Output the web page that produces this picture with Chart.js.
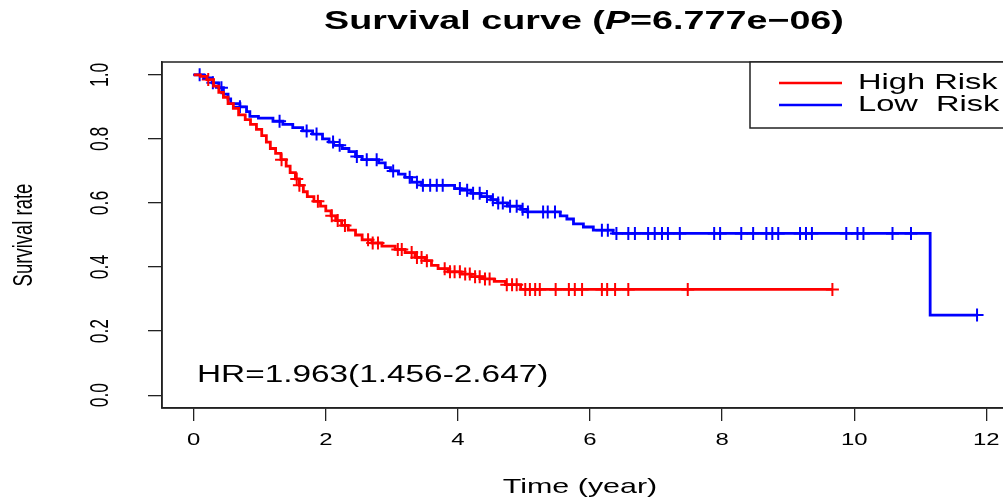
<!DOCTYPE html>
<html>
<head>
<meta charset="utf-8">
<script src="https://cdn.jsdelivr.net/npm/chart.js@4/dist/chart.umd.min.js"></script>
<style>
    html, body { margin: 0; padding: 0; background: #fff; overflow: hidden; }
    #wrap { width: 1003px; height: 499px; overflow: hidden; }
    canvas { display: block; }
</style>
</head>
<body>
<div id="wrap"><canvas id="km" width="1040" height="499"></canvas></div>
<script>
// High Risk group: event times (years) and survival after each step
const highTime = [0, 0.1, 0.2, 0.3, 0.38, 0.45, 0.52, 0.6, 0.68, 0.78, 0.86, 0.95, 1.03, 1.1, 1.16, 1.24, 1.32, 1.4, 1.46, 1.54, 1.6, 1.66, 1.72, 1.82, 1.92, 2.0, 2.08, 2.15, 2.24, 2.34, 2.45, 2.55, 2.7, 2.85, 3.05, 3.2, 3.35, 3.5, 3.6, 3.7, 3.85, 4.05, 4.2, 4.4, 4.55, 4.72, 4.95, 9.67];
const highSurv = [1, 0.995, 0.985, 0.965, 0.945, 0.93, 0.91, 0.895, 0.875, 0.86, 0.845, 0.83, 0.81, 0.79, 0.77, 0.755, 0.735, 0.715, 0.695, 0.675, 0.655, 0.635, 0.62, 0.605, 0.59, 0.575, 0.56, 0.545, 0.53, 0.515, 0.5, 0.485, 0.475, 0.465, 0.455, 0.445, 0.43, 0.42, 0.405, 0.395, 0.385, 0.378, 0.37, 0.363, 0.355, 0.345, 0.33, 0.33];
const highCensor = [0.22, 1.33, 1.56, 1.6, 1.88, 2.09, 2.18, 2.29, 2.64, 2.71, 2.79, 3.09, 3.15, 3.3, 3.38, 3.45, 3.53, 3.8, 3.88, 3.95, 4.03, 4.11, 4.18, 4.26, 4.33, 4.41, 4.48, 4.74, 4.82, 4.89, 5.02, 5.09, 5.17, 5.24, 5.48, 5.68, 5.77, 5.88, 6.18, 6.26, 6.38, 6.58, 7.48, 9.67];

// Low Risk group
const lowTime = [0, 0.15, 0.28, 0.38, 0.45, 0.52, 0.56, 0.7, 0.8, 0.85, 0.98, 1.2, 1.35, 1.5, 1.65, 1.8, 1.95, 2.05, 2.12, 2.25, 2.35, 2.45, 2.55, 2.8, 2.9, 2.98, 3.1, 3.2, 3.3, 3.45, 3.95, 4.05, 4.2, 4.35, 4.5, 4.6, 4.75, 4.95, 5.05, 5.55, 5.65, 5.75, 5.9, 6.05, 6.35, 11.15, 11.86];
const lowSurv = [1, 0.99, 0.975, 0.96, 0.94, 0.925, 0.91, 0.9, 0.885, 0.87, 0.865, 0.855, 0.845, 0.835, 0.825, 0.815, 0.8, 0.79, 0.78, 0.77, 0.76, 0.745, 0.735, 0.725, 0.71, 0.7, 0.69, 0.68, 0.665, 0.655, 0.645, 0.64, 0.63, 0.62, 0.61, 0.6, 0.59, 0.58, 0.572, 0.56, 0.55, 0.535, 0.525, 0.515, 0.505, 0.25, 0.25];
const lowCensor = [0.09, 0.29, 0.42, 0.7, 1.3, 1.71, 1.86, 2.11, 2.21, 2.47, 2.62, 2.77, 3.02, 3.27, 3.38, 3.47, 3.58, 3.68, 3.77, 4.03, 4.14, 4.23, 4.33, 4.44, 4.53, 4.61, 4.68, 4.79, 4.89, 4.98, 5.06, 5.29, 5.36, 5.47, 6.18, 6.27, 6.4, 6.58, 6.68, 6.88, 6.98, 7.09, 7.18, 7.36, 7.88, 7.97, 8.29, 8.47, 8.67, 8.76, 8.85, 9.18, 9.27, 9.36, 9.88, 10.05, 10.14, 10.58, 10.86, 11.86];

const xTicks = [0, 2, 4, 6, 8, 10, 12];
const yTicks = [0, 0.2, 0.4, 0.6, 0.8, 1.0];
const groupNames = ['High Risk', 'Low  Risk'];
const hrText = 'HR=1.963(1.456-2.647)';
const pValue = '6.777e\u221206';

const RED = '#ff0000';
const BLUE = '#0000ff';
const INK = '#222';
const FONT = '"Liberation Sans", Arial, Helvetica, sans-serif';
const SX = 1.45; // the source picture is stretched sideways

function stepPoints(times, surv) {
    return times.map((t, i) => ({ x: t, y: surv[i] }));
}

// survival value of the step curve at time t
function survAt(times, surv, t) {
    let s = surv[0];
    for (let i = 0; i < times.length; i++) {
        if (times[i] <= t) s = surv[i];
    }
    return s;
}

function censorPoints(cens, times, surv) {
    return cens.map(t => ({ x: t, y: survAt(times, surv, t) }));
}

function drawText(ctx, text, x, y, font, align, rotate) {
    ctx.save();
    ctx.translate(x, y);
    ctx.scale(SX, 1);
    if (rotate) ctx.rotate(-Math.PI / 2);
    ctx.font = font;
    ctx.fillStyle = '#000';
    ctx.textAlign = align;
    ctx.textBaseline = 'middle';
    ctx.fillText(text, 0, 0);
    ctx.restore();
}

const decorations = {
    id: 'decorations',
    afterDraw(chart) {
        const ctx = chart.ctx;
        const a = chart.chartArea;
        const xs = chart.scales.x;
        const ys = chart.scales.y;

        // box around the plot
        ctx.save();
        ctx.strokeStyle = INK;
        ctx.lineWidth = 1.5;
        ctx.strokeRect(a.left, a.top, a.right - a.left, a.bottom - a.top);
        ctx.restore();

        // tick labels
        xs.ticks.forEach(t => {
            drawText(ctx, String(t.value), xs.getPixelForValue(t.value), a.bottom + 32, '16.5px ' + FONT, 'center', false);
        });
        ys.ticks.forEach(t => {
            drawText(ctx, t.value.toFixed(1), 101, ys.getPixelForValue(t.value), '17.5px ' + FONT, 'center', true);
        });

        // axis titles
        drawText(ctx, 'Time (year)', 580, 487, '21px ' + FONT, 'center', false);
        drawText(ctx, 'Survival rate', 25, (a.top + a.bottom) / 2, '18.5px ' + FONT, 'center', true);

        // title with italic P
        const parts = [
            ['Survival curve (', 'bold 26px ' + FONT],
            ['P', 'italic bold 26px ' + FONT],
            ['=' + pValue + ')', 'bold 26px ' + FONT]
        ];
        ctx.save();
        let total = 0;
        parts.forEach(p => { ctx.font = p[1]; total += ctx.measureText(p[0]).width; });
        ctx.translate(584 - total * SX / 2, 22);
        ctx.scale(SX, 1);
        ctx.fillStyle = '#000';
        ctx.textBaseline = 'middle';
        ctx.textAlign = 'left';
        let cx = 0;
        parts.forEach(p => {
            ctx.font = p[1];
            ctx.fillText(p[0], cx, 0);
            cx += ctx.measureText(p[0]).width;
        });
        ctx.restore();

        // hazard ratio
        drawText(ctx, hrText, 197, 376, '23px ' + FONT, 'left', false);

        // legend box, top right inside the plot
        const lx = 750, lt = a.top, lb = 128;
        ctx.save();
        ctx.fillStyle = '#fff';
        ctx.fillRect(lx, lt, a.right - lx, lb - lt);
        ctx.strokeStyle = INK;
        ctx.lineWidth = 1.5;
        ctx.strokeRect(lx, lt, a.right - lx, lb - lt);
        const rows = [83, 105];
        [RED, BLUE].forEach((c, i) => {
            ctx.strokeStyle = c;
            ctx.lineWidth = 2.5;
            ctx.beginPath();
            ctx.moveTo(779, rows[i]);
            ctx.lineTo(842, rows[i]);
            ctx.stroke();
        });
        ctx.restore();
        groupNames.forEach((n, i) => drawText(ctx, n, 858, rows[i], '22.5px ' + FONT, 'left', false));
    }
};

const ctx = document.getElementById('km');
new Chart(ctx, {
    type: 'line',
    data: {
        datasets: [
            {
                label: groupNames[0],
                data: stepPoints(highTime, highSurv),
                borderColor: RED,
                borderWidth: 2.8,
                stepped: 'before',
                pointRadius: 0,
                fill: false
            },
            {
                label: groupNames[1],
                data: stepPoints(lowTime, lowSurv),
                borderColor: BLUE,
                borderWidth: 2.8,
                stepped: 'before',
                pointRadius: 0,
                fill: false
            },
            {
                type: 'scatter',
                data: censorPoints(highCensor, highTime, highSurv),
                pointStyle: 'cross',
                pointRadius: 6.5,
                borderColor: RED,
                borderWidth: 2,
                showLine: false
            },
            {
                type: 'scatter',
                data: censorPoints(lowCensor, lowTime, lowSurv),
                pointStyle: 'cross',
                pointRadius: 6.5,
                borderColor: BLUE,
                borderWidth: 2,
                showLine: false
            }
        ]
    },
    options: {
        responsive: false,
        animation: false,
        events: [],
        layout: { padding: { top: 62, right: 22, left: 0, bottom: 0 } },
        plugins: {
            legend: { display: false },
            title: { display: false },
            tooltip: { enabled: false }
        },
        scales: {
            x: {
                type: 'linear',
                min: -0.48,
                max: 12.48,
                afterBuildTicks: s => { s.ticks = xTicks.map(v => ({ value: v })); },
                afterFit: s => { s.height = 91; },
                ticks: { display: false },
                grid: { display: true, drawOnChartArea: false, drawTicks: true, tickLength: 13, color: INK, lineWidth: 1.3 },
                border: { display: true, color: INK, width: 1.5 }
            },
            y: {
                type: 'linear',
                min: -0.04,
                max: 1.04,
                afterBuildTicks: s => { s.ticks = yTicks.map(v => ({ value: v })); },
                afterFit: s => { s.width = 162; },
                ticks: { display: false },
                grid: { display: true, drawOnChartArea: false, drawTicks: true, tickLength: 14, color: INK, lineWidth: 1.3 },
                border: { display: true, color: INK, width: 1.5 }
            }
        }
    },
    plugins: [decorations]
});
</script>
</body>
</html>
